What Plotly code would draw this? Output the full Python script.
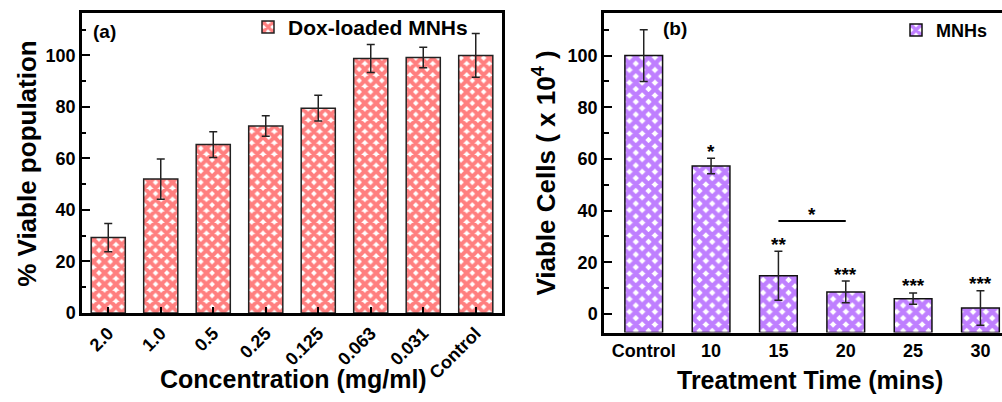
import plotly.graph_objects as go

# ---------------- data ----------------
conc_labels = ["2.0", "1.0", "0.5", "0.25", "0.125", "0.063", "0.031", "Control"]
viable_pct = [29.3, 52.0, 65.4, 72.6, 79.5, 98.8, 99.2, 100.0]
viable_pct_err = [5.5, 7.8, 5.0, 4.0, 5.0, 5.4, 4.0, 8.5]

time_labels = ["Control", "10", "15", "20", "25", "30"]
viable_cells = [100.0, 57.3, 14.8, 8.5, 5.9, 2.3]
viable_cells_err = [10.0, 3.0, 9.5, 4.2, 2.2, 6.7]
signif = ["", "*", "**", "***", "***", "***"]

FONT = "Liberation Sans, Arial, sans-serif"
W, H = 1002, 402

# plot-area pixel boxes
A = dict(x0=82, x1=502, y0=13, y1=321)
B = dict(x0=604, x1=1002, y0=13, y1=341)

def dom_x(b):
    return [b["x0"] / W, b["x1"] / W]

def dom_y(b):
    return [(H - b["y1"]) / H, (H - b["y0"]) / H]

yA_min, yA_max = 0, 116.6
yB_min, yB_max = -7.2, 116.6

fig = go.Figure()

fig.add_trace(go.Bar(
    x=conc_labels, y=viable_pct, name="Dox-loaded MNHs",
    xaxis="x", yaxis="y", width=0.65, legend="legend", showlegend=True,
    marker=dict(color="white",
                pattern=dict(shape="x", fgcolor="#ff0000", bgcolor="white", size=8, solidity=0.75),
                line=dict(color="#222222", width=1.5)),
    error_y=dict(type="data", array=viable_pct_err, color="#222222", thickness=1.5, width=4),
))

fig.add_trace(go.Bar(
    x=time_labels, y=[v - yB_min for v in viable_cells], base=yB_min, name="MNHs",
    xaxis="x2", yaxis="y2", width=0.56, legend="legend2", showlegend=True,
    marker=dict(color="white",
                pattern=dict(shape="x", fgcolor="#8000ff", bgcolor="white", size=9, solidity=0.75),
                line=dict(color="#111111", width=1.5)),
    error_y=dict(type="data", array=viable_cells_err, color="#222222", thickness=1.5, width=4),
))

axis_common = dict(showline=True, linecolor="black", linewidth=2.5, showgrid=False, zeroline=False,
                   tickfont=dict(family=FONT, size=18, color="black", weight="bold"))

fig.update_layout(
    width=W, height=H, margin=dict(l=0, r=0, t=0, b=0),
    paper_bgcolor="white", plot_bgcolor="white",
    font=dict(family=FONT, color="black"),
    showlegend=True,
    xaxis=dict(domain=dom_x(A), anchor="y", type="category", range=[-0.5, 7.5],
               mirror=True, ticks="inside", ticklen=6, tickwidth=2, tickcolor="black",
               tickangle=-45, **axis_common),
    yaxis=dict(domain=dom_y(A), anchor="x", range=[yA_min, yA_max], dtick=20,
               mirror=True, ticks="inside", ticklen=8, tickwidth=2, tickcolor="black",
               minor=dict(ticks="inside", ticklen=4, dtick=10, tickcolor="black", tickwidth=2),
               **axis_common),
    xaxis2=dict(domain=dom_x(B), anchor="y2", type="category", range=[-0.59, 5.32],
                mirror=True, ticks="", **axis_common),
    yaxis2=dict(domain=dom_y(B), anchor="x2", range=[yB_min, yB_max], tickvals=[0, 20, 40, 60, 80, 100],
                ticks="inside", ticklen=8, tickwidth=2, tickcolor="black",
                minor=dict(ticks="inside", ticklen=5, tickvals=[10, 30, 50, 70, 90, 110],
                           tickcolor="black", tickwidth=2),
                **axis_common),
    legend=dict(x=248 / W, y=(H - 28) / H, xanchor="left", yanchor="middle", visible=True,
                bgcolor="rgba(0,0,0,0)", font=dict(family=FONT, size=21, weight="bold", color="black")),
    legend2=dict(x=896 / W, y=(H - 31) / H, xanchor="left", yanchor="middle", visible=True,
                 bgcolor="rgba(0,0,0,0)", font=dict(family=FONT, size=18, weight="bold", color="black")),
)

def ann(text, x, y, size, angle=0):
    fig.add_annotation(text=text, x=x / W, y=(H - y) / H, xref="paper", yref="paper",
                       showarrow=False, textangle=angle, xanchor="center", yanchor="middle",
                       font=dict(family=FONT, size=size, color="black", weight="bold"))

ann("(a)", 104, 32, 19)
ann("(b)", 675, 29, 19)
ann("% Viable population", 27, 168, 26, -90)
ann("Viable Cells ( x 10<sup>4</sup> )", 545, 178, 26, -90)
ann("Concentration (mg/ml)", 293, 389, 25)
ann("Treatment Time (mins)", 810, 390, 25)

# significance stars (category index positions)
for i, (v, e, s) in enumerate(zip(viable_cells, viable_cells_err, signif)):
    if s:
        fig.add_annotation(text=s, x=i, y=v + e, xref="x2", yref="y2", showarrow=False,
                           yanchor="middle", yshift=7,
                           font=dict(family=FONT, size=19, color="black", weight="bold"))

# bracket between 15 and 20 min
i15, i20 = time_labels.index("15"), time_labels.index("20")
fig.add_shape(type="line", xref="x2", yref="y2", x0=i15, x1=i20, y0=36, y1=36,
              line=dict(color="black", width=2))
fig.add_annotation(text="*", x=(i15 + i20) / 2, y=36, xref="x2", yref="y2", showarrow=False,
                   yanchor="middle", yshift=6,
                   font=dict(family=FONT, size=19, color="black", weight="bold"))

fig.write_html("out.html")
